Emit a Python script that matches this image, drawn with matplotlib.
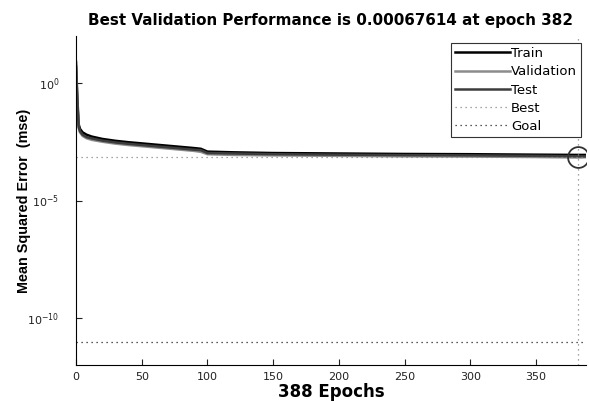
import matplotlib
matplotlib.use("Agg")
import matplotlib.pyplot as plt
import numpy as np

plt.rcParams["font.family"] = ["DejaVu Sans"]

# epochs and log10(mse)
epochs = [0, 1, 2, 3, 5, 8, 12, 20, 30, 40, 50, 60, 70, 80, 90, 95, 100,
          120, 150, 200, 250, 300, 350, 382, 388]
train_log = [0.9, -0.6, -1.75, -1.95, -2.1, -2.2, -2.28, -2.38, -2.46, -2.52,
             -2.57, -2.62, -2.67, -2.72, -2.77, -2.80, -2.92, -2.95, -2.98,
             -3.0, -3.02, -3.03, -3.05, -3.06, -3.06]
val_log = [0.5, -0.9, -1.9, -2.1, -2.25, -2.35, -2.42, -2.5, -2.58, -2.64,
           -2.69, -2.74, -2.79, -2.84, -2.89, -2.93, -3.03, -3.06, -3.08,
           -3.1, -3.12, -3.13, -3.15, -3.17, -3.16]
test_log = [0.7, -0.8, -1.85, -2.05, -2.2, -2.3, -2.36, -2.45, -2.53, -2.59,
            -2.64, -2.69, -2.74, -2.79, -2.84, -2.86, -2.98, -3.0, -3.03,
            -3.05, -3.07, -3.08, -3.1, -3.12, -3.12]
best_epoch = 382
best_perf = 0.00067614
goal = 1e-11
n_epochs = 388

fig = plt.figure(figsize=(5.89, 4.01), dpi=100)
ax = fig.add_axes([76 / 589, 36 / 401, 510 / 589, 329 / 401])

ax.semilogy(epochs, 10 ** np.array(train_log), color="#000000", lw=1.8, label="Train")
ax.semilogy(epochs, 10 ** np.array(val_log), color="#8c8c8c", lw=1.8, label="Validation")
ax.semilogy(epochs, 10 ** np.array(test_log), color="#3c3c3c", lw=1.8, label="Test")
ax.axhline(best_perf, color="#888888", lw=0.9, ls=(0, (1, 3)), label="Best")
ax.axvline(best_epoch, color="#888888", lw=0.9, ls=(0, (1, 3)))
ax.axhline(goal, color="#222222", lw=0.9, ls=(0, (1, 3)), label="Goal")
ax.plot([best_epoch], [best_perf], "o", ms=15, mfc="none", mec="#333333", mew=1.3)

ax.set_xlim(0, n_epochs)
ax.set_ylim(1e-12, 1e2)
ax.set_yticks([1e-10, 1e-5, 1e0])
ax.set_yticklabels([r"$10^{-10}$", r"$10^{-5}$", r"$10^{0}$"])
ax.yaxis.set_minor_locator(matplotlib.ticker.NullLocator())
ax.set_xticks(range(0, 351, 50))
ax.tick_params(direction="in", length=4, labelsize=8, colors="#222222")
ax.tick_params(axis="x", pad=5)
ax.tick_params(axis="y", pad=12)

for side in ("top", "right"):
    ax.spines[side].set_visible(False)

ax.set_title(f"Best Validation Performance is {best_perf:.8f} at epoch {best_epoch}",
             fontsize=10.9, fontweight="bold", pad=8)
ax.set_xlabel(f"{n_epochs} Epochs", fontsize=12, fontweight="bold", labelpad=1)
ax.set_ylabel("Mean Squared Error  (mse)", fontsize=10.4, fontweight="bold",
              family="Liberation Sans")
ax.yaxis.set_label_coords(31 / 589, 1 - (36 + 329 / 2) / 401, transform=fig.transFigure)

leg = ax.legend(loc="upper right", fancybox=False, framealpha=1,
                edgecolor="#333333", fontsize=9.5, handlelength=4.2,
                handletextpad=0.05, labelspacing=0.4, borderpad=0.3,
                borderaxespad=0)
leg.set_bbox_to_anchor((581 / 589, 1 - 43 / 401), transform=fig.transFigure)
leg.get_frame().set_linewidth(0.8)

fig.savefig("out.png", dpi=100)
